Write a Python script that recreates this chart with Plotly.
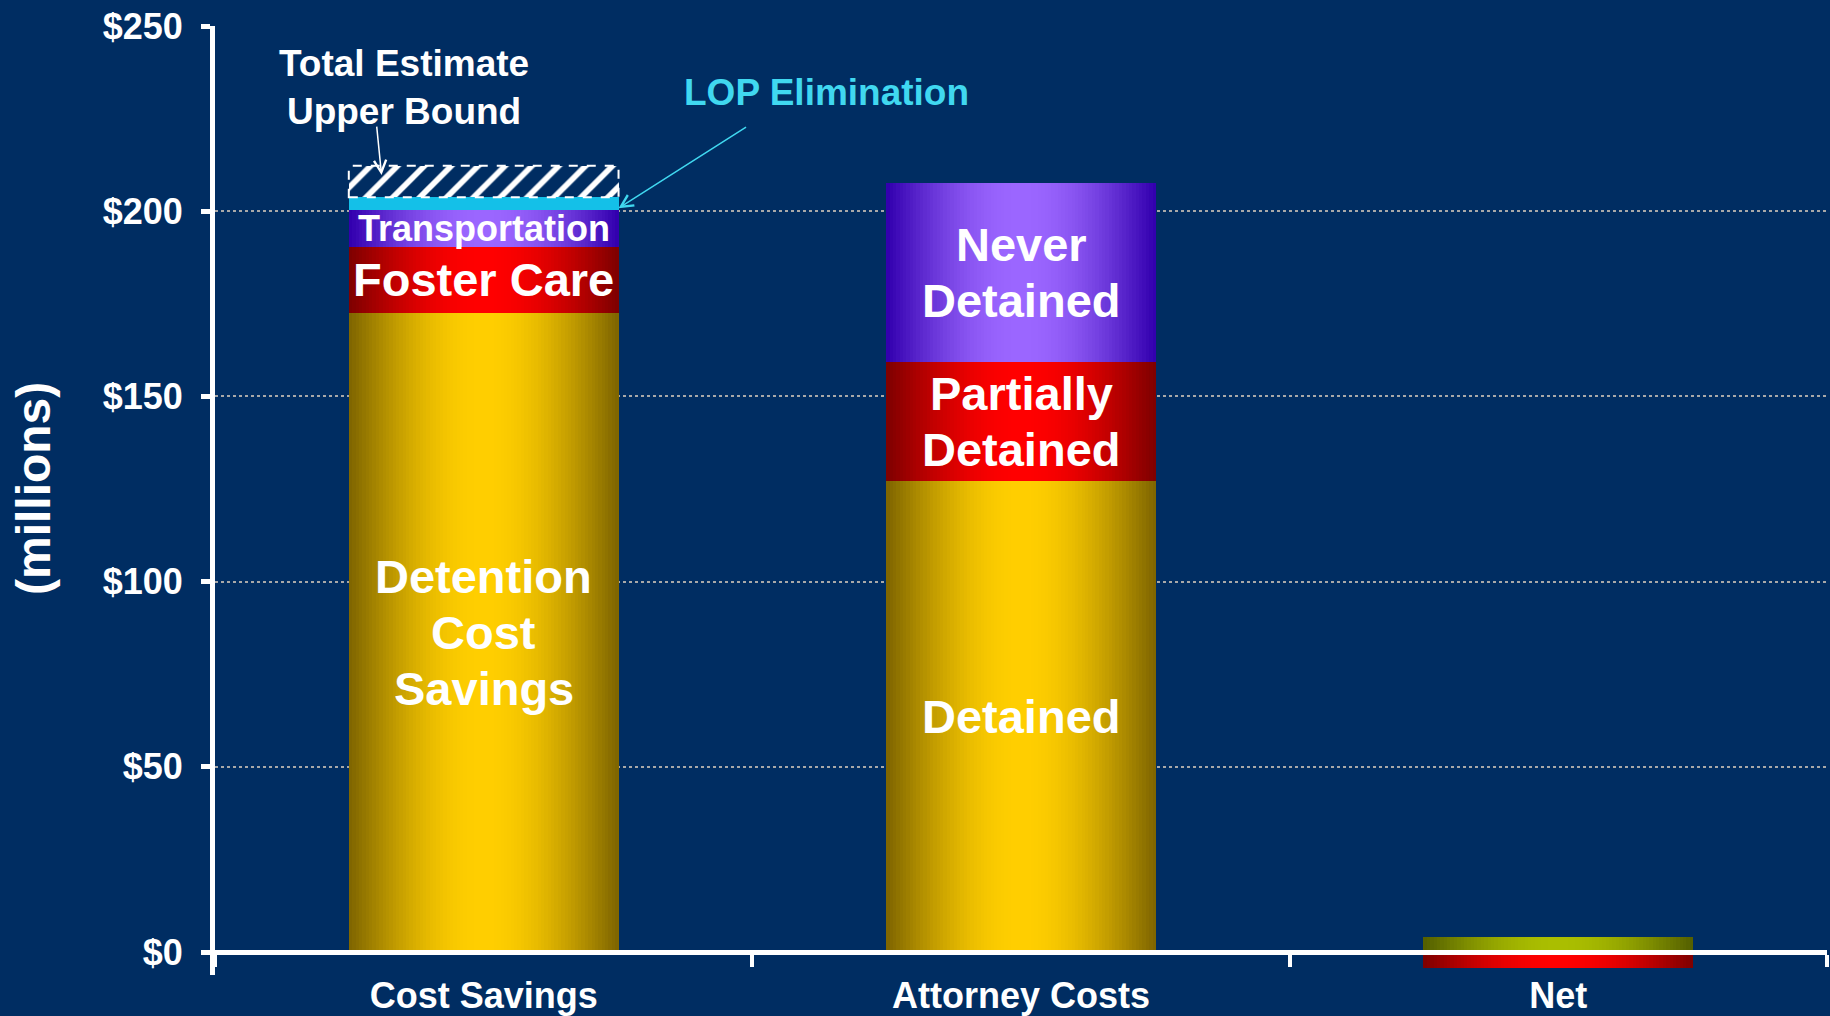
import math
import plotly.graph_objects as go

# ---------------- data ----------------
categories = ["Cost Savings", "Attorney Costs", "Net"]

savings_labels = ["Detention\nCost\nSavings", "Foster Care", "Transportation", ""]
savings_values = [172.5, 17.9, 9.9, 3.5]          # detention, foster care, transportation, LOP elimination
upper_bound_extra = 8.5                           # hatched "Total Estimate Upper Bound"

attorney_labels = ["Detained", "Partially\nDetained", "Never\nDetained"]
attorney_values = [127.2, 32.2, 48.2]

net_values = [4.0, -4.2]                          # positive part, negative part

y_ticks = [0, 50, 100, 150, 200, 250]
y_tick_text = ["$0", "$50", "$100", "$150", "$200", "$250"]

# ---------------- style ----------------
BG = "#002D62"
FONT = "Liberation Sans, Arial, sans-serif"
BAR_W = 0.502
N = 40
Y_MIN, Y_MAX = -6.2, 250

palettes = {
    "gold": ((128, 102, 0), (255, 206, 0)),
    "red": ((128, 0, 0), (255, 0, 0)),
    "purple": ((51, 0, 175), (155, 102, 255)),
    "olive": ((85, 96, 0), (170, 190, 0)),
    "cyan": ((20, 192, 232), (20, 192, 232)),
}


def mix(pal, t):
    a, b = palettes[pal]
    return "rgb(%d,%d,%d)" % tuple(round(a[i] + (b[i] - a[i]) * t) for i in range(3))


segments = []


def add_stack(cat, values, pals, labels, sizes):
    base = 0.0
    for v, p, l, s in zip(values, pals, labels, sizes):
        segments.append(dict(cat=cat, base=base, h=v, pal=p, label=l, size=s))
        base += v
    return base


savings_total = add_stack(categories[0], savings_values,
                          ["gold", "red", "purple", "cyan"], savings_labels, [47, 47, 36, 0])
add_stack(categories[1], attorney_values, ["gold", "red", "purple"], attorney_labels, [47, 47, 47])
segments.append(dict(cat=categories[2], base=0.0, h=net_values[0], pal="olive", label="", size=0))
segments.append(dict(cat=categories[2], base=0.0, h=net_values[1], pal="red", label="", size=0))

fig = go.Figure()

# gradient bars: overlaid bars of decreasing width, dark edges -> bright centre
for k in range(N):
    s = k / (N - 1)
    t = math.sin(math.pi / 2 * s)
    w = BAR_W * (1 - k / N)
    fig.add_trace(go.Bar(
        x=[sg["cat"] for sg in segments],
        y=[sg["h"] for sg in segments],
        base=[sg["base"] for sg in segments],
        width=[w] * len(segments),
        marker=dict(color=[mix(sg["pal"], t) for sg in segments], line=dict(width=0)),
        hoverinfo="skip", showlegend=False,
    ))

# hatched upper-bound bar
fig.add_trace(go.Bar(
    x=[categories[0]], y=[upper_bound_extra], base=[savings_total], width=[BAR_W],
    marker=dict(color="rgba(0,0,0,0)", line=dict(width=0),
                pattern=dict(shape="/", fgcolor="white", bgcolor="rgba(0,0,0,0)", fgopacity=1,
                             size=19, solidity=0.3, fillmode="overlay")),
    hoverinfo="skip", showlegend=False,
))
fig.add_shape(type="rect", xref="x", yref="y",
              x0=0 - BAR_W / 2, x1=0 + BAR_W / 2,
              y0=savings_total, y1=savings_total + upper_bound_extra,
              line=dict(color="white", width=2, dash="dash"))

# labels inside bars
for sg in segments:
    if not sg["label"]:
        continue
    lines = sg["label"].split("\n")
    n = len(lines)
    lh = sg["size"] * 1.19
    for i, line in enumerate(lines):
        fig.add_annotation(x=sg["cat"], y=sg["base"] + sg["h"] / 2, text=line,
                           showarrow=False, yshift=((n - 1) / 2 - i) * lh,
                           font=dict(family=FONT, size=sg["size"], color="white", weight="bold"))

# callouts
fig.add_annotation(x=-0.149, y=233.4, xref="x", yref="y",
                   text="Total Estimate<br>Upper Bound", showarrow=False,
                   font=dict(family=FONT, size=37, color="white", weight="bold"))
fig.add_annotation(x=-0.19, y=savings_total + upper_bound_extra * 0.7, xref="x", yref="y",
                   text="", showarrow=True, ax=-5, ay=-50, arrowhead=5, arrowsize=1.6,
                   arrowwidth=1.5, arrowcolor="white")
fig.add_annotation(x=0.6375, y=232, xref="x", yref="y",
                   text="LOP Elimination", showarrow=False,
                   font=dict(family=FONT, size=37, color="#40D8F0", weight="bold"))
fig.add_annotation(x=BAR_W / 2, y=savings_total - savings_values[3] * 0.85, xref="x", yref="y",
                   text="", showarrow=True, ax=129, ay=-82, arrowhead=5, arrowsize=1.6,
                   arrowwidth=1.5, arrowcolor="#40D8F0")

# y-axis title
fig.add_annotation(x=-0.1129, y=125, xref="paper", yref="y", text="(millions)",
                   xanchor="center", yanchor="middle",
                   textangle=-90, showarrow=False,
                   font=dict(family=FONT, size=48, color="white", weight="bold"))

fig.update_layout(
    width=1830, height=1016,
    margin=dict(l=215, r=3, t=26, b=41, autoexpand=False),
    paper_bgcolor=BG, plot_bgcolor=BG,
    barmode="overlay", bargap=0,
    font=dict(family=FONT, color="white"),
    xaxis=dict(type="category", categoryorder="array", categoryarray=categories,
               range=[-0.5, 2.5], anchor="free", position=(0 - Y_MIN) / (Y_MAX - Y_MIN),
               showline=True, linecolor="white", linewidth=5, automargin=False,
               ticks="outside", tickson="boundaries", ticklen=12, tickwidth=4, tickcolor="white",
               showgrid=False, ticklabelstandoff=10,
               tickfont=dict(family=FONT, size=36, color="white", weight="bold")),
    yaxis=dict(range=[Y_MIN, Y_MAX], tickvals=y_ticks, ticktext=y_tick_text,
               showline=True, linecolor="white", linewidth=5, automargin=False,
               ticks="outside", ticklen=9, tickwidth=5, tickcolor="white",
               showgrid=True, gridcolor="#A8A8A8", griddash="dot", gridwidth=2,
               zeroline=False, ticklabelstandoff=11,
               tickfont=dict(family=FONT, size=36, color="white", weight="bold")),
)

fig.write_html("out.html", config={"displayModeBar": False},
               post_script="document.body.style.margin='0';")
